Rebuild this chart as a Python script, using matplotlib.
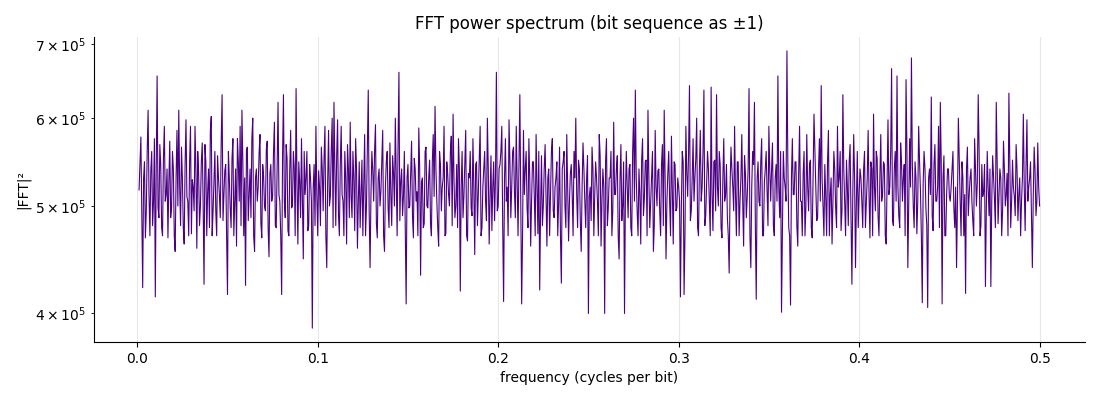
import matplotlib
matplotlib.use('Agg')
import matplotlib.pyplot as plt
import numpy as np

# power values in units of 1e3, 50 per 0.05 of frequency
seg0 = [517, 577, 422, 548, 495, 610, 470, 560, 505, 414,
        655, 488, 545, 470, 590, 512, 468, 572, 498, 540,
        455, 585, 610, 480, 530, 462, 598, 505, 548, 472,
        520, 590, 458, 535, 500, 570, 425, 548, 515, 478,
        602, 495, 560, 470, 530, 488, 630, 510, 545, 416]
seg1 = [530, 478, 575, 505, 460, 548, 590, 610, 470, 424,
        565, 512, 488, 600, 455, 540, 520, 580, 468, 532,
        495, 572, 450, 545, 510, 595, 478, 620, 505, 416,
        630, 488, 552, 470, 585, 500, 540, 638, 462, 525,
        575, 448, 512, 560, 480, 530, 388, 545, 590, 470]
seg2 = [520, 565, 495, 590, 440, 585, 510, 600, 620, 480,
        598, 470, 590, 505, 560, 462, 540, 595, 488, 530,
        575, 458, 548, 512, 470, 580, 500, 636, 440, 560,
        505, 592, 468, 540, 515, 585, 455, 548, 498, 570,
        480, 535, 600, 470, 660, 525, 490, 560, 408, 545]
seg3 = [500, 572, 468, 540, 515, 588, 433, 530, 482, 565,
        498, 550, 470, 580, 615, 505, 460, 545, 520, 590,
        472, 535, 500, 578, 605, 488, 545, 575, 419, 560,
        510, 585, 465, 530, 498, 575, 452, 548, 515, 590,
        478, 540, 505, 600, 462, 555, 520, 485, 660, 500]
seg4 = [545, 590, 410, 575, 520, 598, 488, 560, 515, 590,
        470, 630, 408, 585, 540, 498, 575, 460, 548, 510,
        580, 472, 420, 555, 500, 568, 460, 540, 515, 575,
        488, 530, 470, 565, 426, 548, 500, 580, 465, 535,
        512, 560, 600, 478, 540, 455, 570, 505, 530, 400]
seg5 = [520, 565, 470, 548, 505, 580, 460, 540, 400, 575,
        498, 530, 470, 595, 512, 555, 448, 568, 500, 400,
        560, 488, 545, 470, 600, 636, 495, 540, 462, 575,
        508, 550, 610, 478, 530, 455, 585, 500, 540, 470,
        568, 610, 448, 535, 505, 578, 462, 545, 498, 520]
seg6 = [414, 560, 416, 590, 510, 642, 495, 575, 530, 600,
        470, 585, 520, 636, 490, 560, 505, 640, 475, 550,
        630, 500, 545, 468, 575, 512, 488, 435, 565, 520,
        590, 470, 548, 505, 580, 460, 535, 510, 638, 440,
        560, 620, 412, 548, 500, 575, 470, 540, 515, 590]
seg7 = [505, 570, 470, 545, 655, 488, 401, 560, 520, 690,
        478, 407, 575, 512, 548, 460, 590, 505, 535, 470,
        580, 495, 550, 468, 605, 520, 488, 575, 642, 500,
        545, 470, 585, 512, 462, 560, 498, 590, 530, 475,
        630, 505, 550, 480, 568, 425, 580, 440, 560, 512]
seg8 = [530, 478, 560, 505, 585, 468, 540, 605, 495, 552,
        470, 580, 512, 545, 462, 598, 520, 665, 480, 560,
        655, 490, 570, 505, 545, 650, 440, 575, 680, 500,
        548, 472, 590, 515, 409, 560, 498, 405, 540, 627,
        475, 568, 505, 590, 620, 408, 555, 470, 540, 510]
seg9 = [520, 560, 478, 440, 600, 505, 548, 470, 417, 565,
        512, 540, 485, 575, 500, 630, 470, 545, 515, 423,
        560, 490, 423, 555, 508, 620, 482, 540, 470, 572,
        500, 535, 632, 478, 550, 510, 568, 485, 530, 505,
        605, 475, 598, 520, 548, 440, 565, 490, 570, 500]

# the in-between bins (half a step later), mostly inside the dense core band
mid0 = [545, 492, 530, 468, 560, 512, 538, 480, 575, 540,
        498, 568, 478, 552, 505, 540, 525, 488, 560, 470,
        530, 500, 520, 565, 478, 545, 510, 470, 590, 528,
        495, 538, 560, 480, 548, 502, 568, 470, 540, 585,
        470, 528, 495, 555, 512, 570, 485, 538, 470, 560]
mid1 = [498, 552, 470, 540, 575, 505, 480, 548, 530, 562,
        485, 540, 575, 470, 530, 505, 558, 482, 545, 500,
        562, 478, 535, 505, 560, 480, 540, 512, 470, 552,
        505, 568, 475, 540, 498, 560, 470, 525, 548, 488,
        510, 560, 530, 475, 545, 505, 520, 480, 512, 538]
mid2 = [480, 540, 552, 470, 525, 500, 562, 478, 540, 555,
        490, 545, 512, 470, 530, 568, 488, 510, 560, 475,
        540, 505, 478, 550, 522, 470, 560, 495, 512, 538,
        560, 482, 530, 500, 548, 470, 520, 560, 478, 512,
        555, 500, 530, 565, 485, 540, 510, 475, 530, 498]
mid3 = [535, 490, 552, 505, 470, 540, 525, 478, 560, 500,
        530, 482, 548, 510, 540, 478, 560, 495, 530, 470,
        548, 512, 560, 480, 530, 500, 478, 540, 520, 488,
        548, 470, 535, 560, 490, 520, 545, 480, 555, 470,
        520, 560, 485, 540, 510, 475, 548, 530, 495, 540]
mid4 = [560, 480, 530, 505, 470, 548, 520, 565, 488, 530,
        540, 505, 470, 512, 560, 478, 530, 505, 548, 470,
        525, 560, 498, 480, 540, 512, 530, 470, 560, 495,
        520, 548, 505, 470, 540, 560, 478, 520, 505, 545,
        470, 530, 512, 550, 485, 520, 540, 478, 555, 510]
mid5 = [485, 540, 512, 530, 470, 555, 505, 520, 548, 480,
        530, 560, 495, 512, 540, 470, 528, 485, 548, 510,
        520, 540, 478, 560, 505, 530, 470, 512, 550, 490,
        548, 470, 530, 505, 560, 480, 520, 538, 495, 545,
        480, 530, 505, 560, 470, 520, 548, 495, 530, 505]
mid6 = [500, 548, 470, 535, 560, 485, 530, 505, 552, 478,
        540, 505, 560, 480, 525, 540, 470, 512, 548, 495,
        520, 560, 478, 530, 505, 545, 470, 520, 540, 495,
        512, 548, 470, 530, 505, 555, 488, 540, 470, 520,
        545, 480, 530, 505, 548, 470, 525, 560, 480, 538]
mid7 = [540, 480, 530, 505, 520, 560, 470, 530, 505, 548,
        470, 530, 512, 548, 480, 535, 505, 470, 560, 498,
        520, 545, 478, 530, 560, 485, 540, 505, 528, 470,
        510, 548, 470, 530, 505, 540, 478, 520, 560, 495,
        540, 470, 520, 548, 490, 512, 530, 505, 478, 540]
mid8 = [505, 540, 478, 530, 512, 548, 470, 520, 560, 490,
        530, 505, 548, 470, 530, 512, 560, 485, 540, 505,
        520, 478, 548, 530, 470, 560, 505, 520, 545, 478,
        530, 505, 548, 470, 525, 540, 480, 530, 512, 490,
        545, 505, 520, 478, 548, 530, 470, 512, 540, 505]
mid9 = [540, 498, 520, 505, 548, 470, 530, 512, 540, 490,
        530, 505, 470, 540, 525, 560, 480, 510, 545, 498,
        520, 540, 505, 530, 478, 545, 510, 530, 495, 540,
        512, 470, 548, 505, 520, 490, 540, 512, 470, 530,
        520, 545, 505, 530, 490, 510, 538, 505, 520]

main = seg0 + seg1 + seg2 + seg3 + seg4 + seg5 + seg6 + seg7 + seg8 + seg9
mids = mid0 + mid1 + mid2 + mid3 + mid4 + mid5 + mid6 + mid7 + mid8 + mid9

power = np.empty(len(main) + len(mids))
power[0::2] = main
power[1::2] = mids
power = power * 1e3
freq = np.arange(1, len(power) + 1) / 2000.0 + 0.0005

fig, ax = plt.subplots(figsize=(11, 4), dpi=100)
ax.plot(freq, power, color='#4B0082', linewidth=0.8)
ax.set_yscale('log')
ax.set_title('FFT power spectrum (bit sequence as ±1)', fontsize=12)
ax.set_xlabel('frequency (cycles per bit)')
ax.set_ylabel('|FFT|²')
ax.grid(axis='x', alpha=0.3)
ax.spines['top'].set_visible(False)
ax.spines['right'].set_visible(False)

plt.subplots_adjust(left=0.0855, right=0.986, top=0.9075, bottom=0.145)
plt.savefig('out.png')
